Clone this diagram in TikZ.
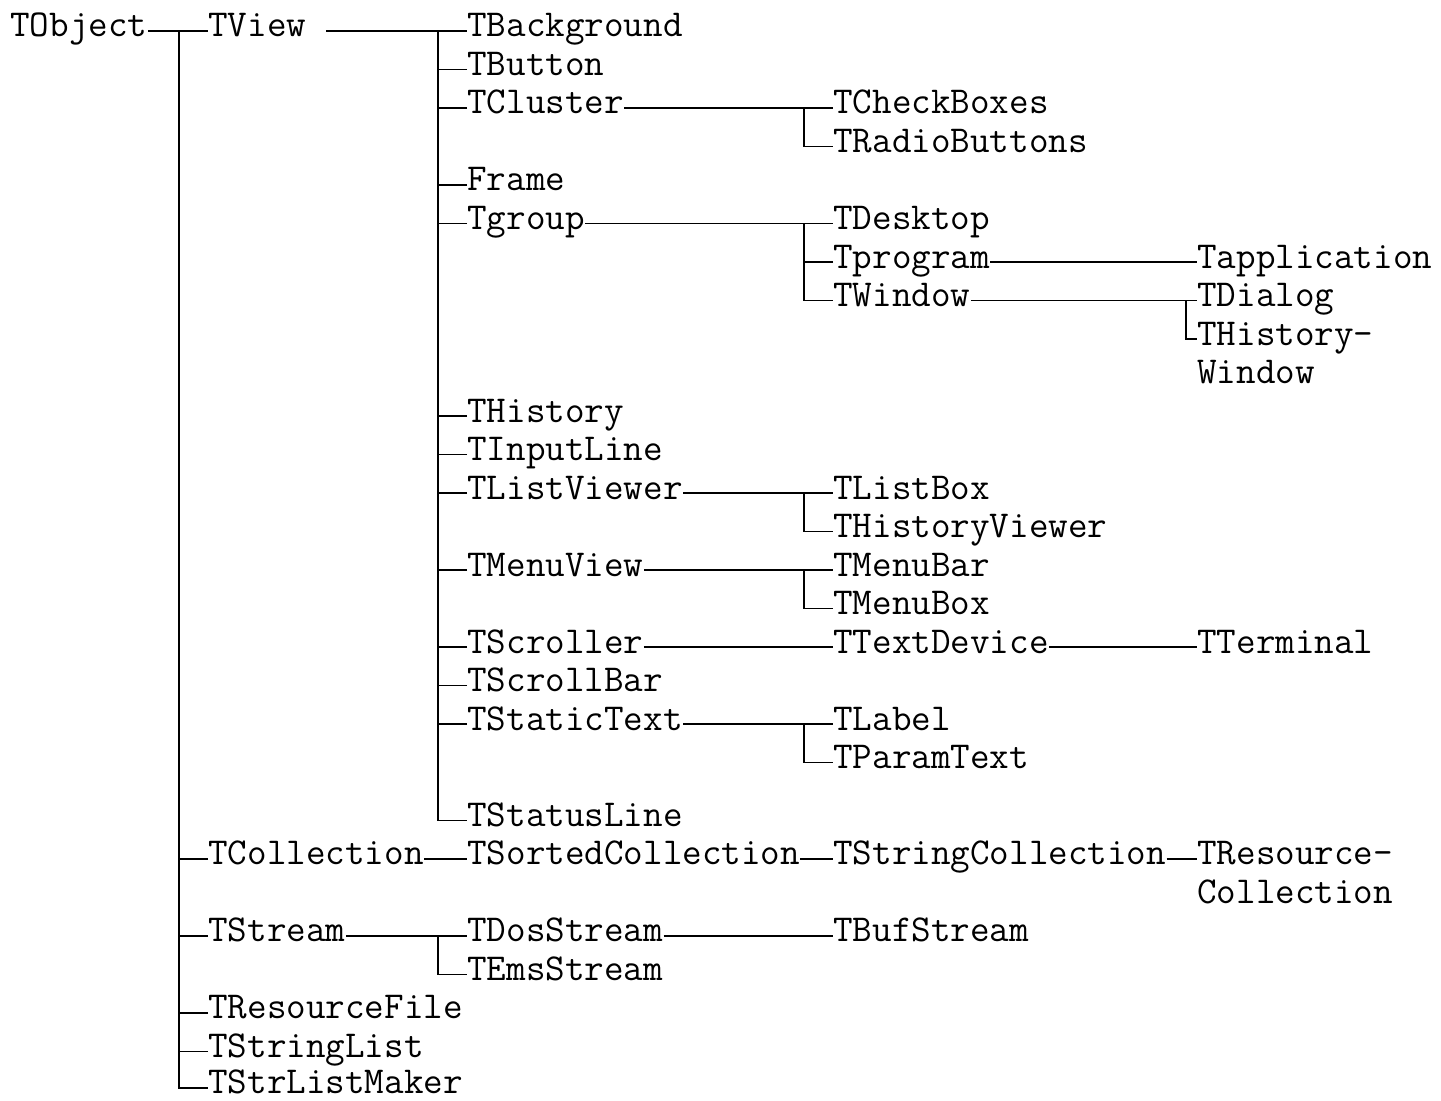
\documentclass[tikz,border=0pt]{standalone}
\usepackage{tikz}

\begin{document}
\begin{tikzpicture}[
    x=0.5pt, y=-19.25pt,
    cls/.style={anchor=west, inner sep=0pt, text height=10pt, text depth=4pt, font=\ttfamily\fontsize{19}{19}\selectfont},
    link/.style={line width=0.75pt}
]
\useasboundingbox (0,-0.805) rectangle (1441,27.79);

\node[cls] (tobject) at (10,0) {TObject};
\node[cls] (tview) at (208,0) {TView\phantom{x}};
\node[cls] (tcollection) at (208,21.5) {TCollection};
\node[cls] (tstream) at (208,23.5) {TStream};
\node[cls] (tresourcefile) at (208,25.5) {TResourceFile};
\node[cls] (tstringlist) at (208,26.5) {TStringList};
\node[cls] (tstrlistmaker) at (208,27.45) {TStrListMaker};

\node[cls] (tbackground) at (467,0) {TBackground};
\node[cls] (tbutton) at (467,1) {TButton};
\node[cls] (tcluster) at (467,2) {TCluster};
\node[cls] (frame) at (467,4) {Frame};
\node[cls] (tgroup) at (467,5) {Tgroup};
\node[cls] (thistory) at (467,10) {THistory};
\node[cls] (tinputline) at (467,11) {TInputLine};
\node[cls] (tlistviewer) at (467,12) {TListViewer};
\node[cls] (tmenuview) at (467,14) {TMenuView};
\node[cls] (tscroller) at (467,16) {TScroller};
\node[cls] (tscrollbar) at (467,17) {TScrollBar};
\node[cls] (tstatictext) at (467,18) {TStaticText};
\node[cls] (tstatusline) at (467,20.5) {TStatusLine};
\node[cls] (tsortedcoll) at (467,21.5) {TSortedCollection};
\node[cls] (tdosstream) at (467,23.5) {TDosStream};
\node[cls] (temsstream) at (467,24.5) {TEmsStream};

\node[cls] (tcheckboxes) at (833,2) {TCheckBoxes};
\node[cls] (tradiobuttons) at (833,3) {TRadioButtons};
\node[cls] (tdesktop) at (833,5) {TDesktop};
\node[cls] (tprogram) at (833,6) {Tprogram};
\node[cls] (twindow) at (833,7) {TWindow};
\node[cls] (tlistbox) at (833,12) {TListBox};
\node[cls] (thistviewer) at (833,13) {THistoryViewer};
\node[cls] (tmenubar) at (833,14) {TMenuBar};
\node[cls] (tmenubox) at (833,15) {TMenuBox};
\node[cls] (ttextdevice) at (833,16) {TTextDevice};
\node[cls] (tlabel) at (833,18) {TLabel};
\node[cls] (tparamtext) at (833,19) {TParamText};
\node[cls] (tstringcoll) at (833,21.5) {TStringCollection};
\node[cls] (tbufstream) at (833,23.5) {TBufStream};

\node[cls] (tapplication) at (1197,6) {Tapplication};
\node[cls] (tdialog) at (1197,7) {TDialog};
\node[cls] (thistwin) at (1197,8) {THistory-};
\node[cls] (thistwinb) at (1197,9) {Window};
\node[cls] (tterminal) at (1197,16) {TTerminal};
\node[cls] (trescoll) at (1197,21.5) {TResource-};
\node[cls] (trescollb) at (1197,22.5) {Collection};

\draw[link] (tobject) -- (tview);
\draw[link] ([xshift=-14.5pt]tview.west) |- (tstrlistmaker.west);
\draw[link] (tcollection.west) -- ++(-29,0);
\draw[link] (tstream.west) -- ++(-29,0);
\draw[link] (tresourcefile.west) -- ++(-29,0);
\draw[link] (tstringlist.west) -- ++(-29,0);

\draw[link] (tview) -- (tbackground);
\draw[link] ([xshift=-14.5pt]tbackground.west) |- (tstatusline.west);
\draw[link] (tbutton.west) -- ++(-29,0);
\draw[link] (tcluster.west) -- ++(-29,0);
\draw[link] (frame.west) -- ++(-29,0);
\draw[link] (tgroup.west) -- ++(-29,0);
\draw[link] (thistory.west) -- ++(-29,0);
\draw[link] (tinputline.west) -- ++(-29,0);
\draw[link] (tlistviewer.west) -- ++(-29,0);
\draw[link] (tmenuview.west) -- ++(-29,0);
\draw[link] (tscroller.west) -- ++(-29,0);
\draw[link] (tscrollbar.west) -- ++(-29,0);
\draw[link] (tstatictext.west) -- ++(-29,0);

\draw[link] (tcluster) -- (tcheckboxes);
\draw[link] ([xshift=-14.5pt]tcheckboxes.west) |- (tradiobuttons.west);
\draw[link] (tgroup) -- (tdesktop);
\draw[link] ([xshift=-14.5pt]tdesktop.west) |- (twindow.west);
\draw[link] (tprogram.west) -- ++(-29,0);
\draw[link] (tprogram) -- (tapplication);
\draw[link] (twindow) -- (tdialog);
\draw[link] ([xshift=-5.5pt]tdialog.west) |- (thistwin.west);
\draw[link] (tlistviewer) -- (tlistbox);
\draw[link] ([xshift=-14.5pt]tlistbox.west) |- (thistviewer.west);
\draw[link] (tmenuview) -- (tmenubar);
\draw[link] ([xshift=-14.5pt]tmenubar.west) |- (tmenubox.west);
\draw[link] (tscroller) -- (ttextdevice);
\draw[link] (ttextdevice) -- (tterminal);
\draw[link] (tstatictext) -- (tlabel);
\draw[link] ([xshift=-14.5pt]tlabel.west) |- (tparamtext.west);

\draw[link] (tcollection) -- (tsortedcoll);
\draw[link] (tsortedcoll) -- (tstringcoll);
\draw[link] (tstringcoll) -- (trescoll);
\draw[link] (tstream) -- (tdosstream);
\draw[link] ([xshift=-14.5pt]tdosstream.west) |- (temsstream.west);
\draw[link] (tdosstream) -- (tbufstream);
\end{tikzpicture}
\end{document}
